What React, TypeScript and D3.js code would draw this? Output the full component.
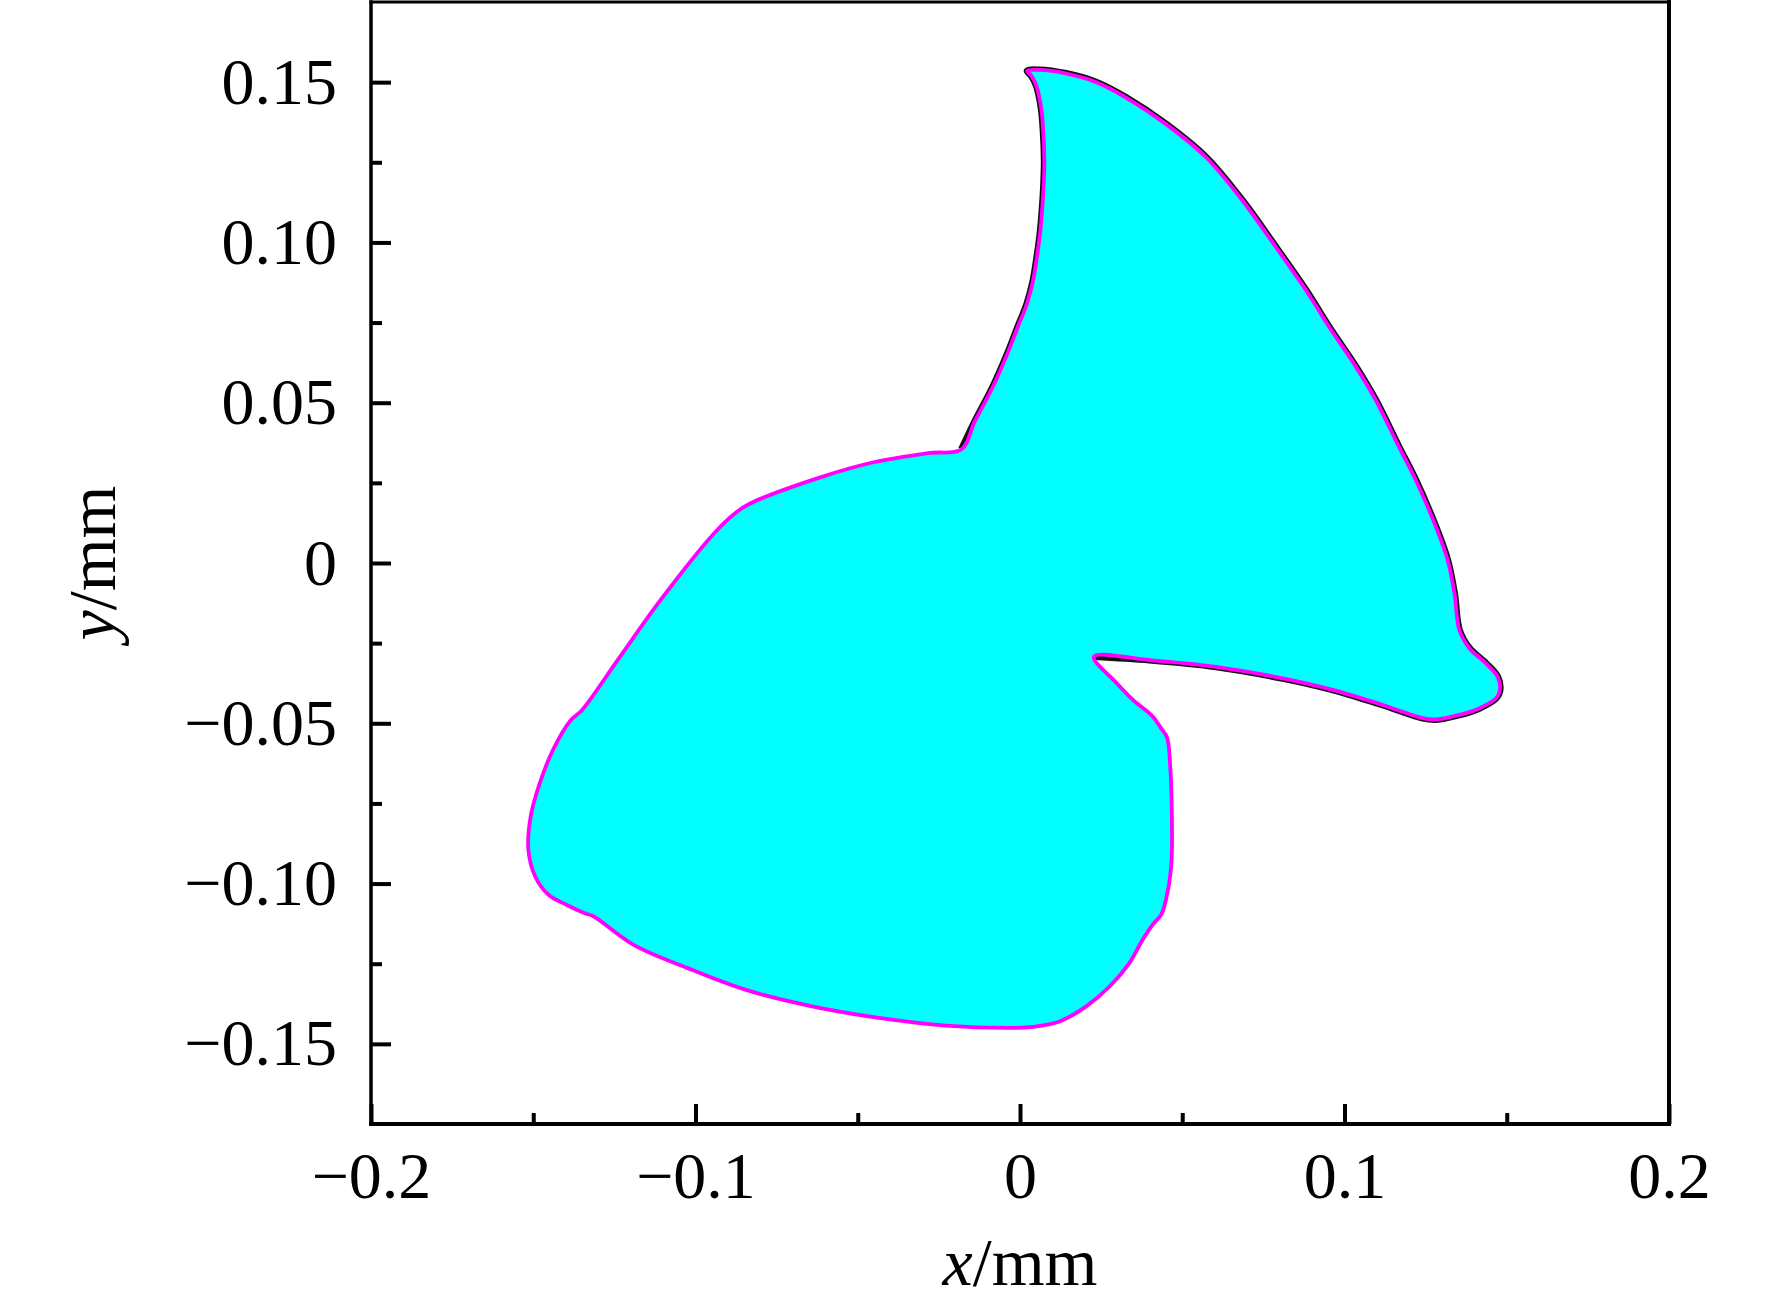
import * as d3 from "d3";
import { useEffect, useRef } from "react";

const xTicks = [-0.2, -0.1, 0, 0.1, 0.2];
const xMinorTicks = [-0.15, -0.05, 0.05, 0.15];
const yTicks = [-0.15, -0.1, -0.05, 0, 0.05, 0.1, 0.15];
const yMinorTicks = [-0.125, -0.075, -0.025, 0.025, 0.075, 0.125];

// upper blade: left notch -> tip -> right side -> inner notch (x, y in mm)
const bladeOutline: [number, number][] = [
  [-0.018, 0.0355],
  [-0.014, 0.044],
  [-0.0084, 0.0549],
  [-0.004, 0.065],
  [-0.0007, 0.0736],
  [0.0021, 0.0808],
  [0.004, 0.088],
  [0.0052, 0.0954],
  [0.0062, 0.103],
  [0.0068, 0.1099],
  [0.0073, 0.118],
  [0.0075, 0.1255],
  [0.0072, 0.134],
  [0.0065, 0.1421],
  [0.005, 0.149],
  [0.0035, 0.152],
  [0.0022, 0.1535],
  [0.006, 0.1538],
  [0.0142, 0.1527],
  [0.0235, 0.15],
  [0.0327, 0.1452],
  [0.045, 0.1369],
  [0.0574, 0.1265],
  [0.0686, 0.113],
  [0.0789, 0.0985],
  [0.0882, 0.085],
  [0.0953, 0.0736],
  [0.1036, 0.0611],
  [0.1097, 0.0507],
  [0.1168, 0.0362],
  [0.122, 0.0258],
  [0.1282, 0.0112],
  [0.1318, 0.0009],
  [0.1339, -0.0095],
  [0.1354, -0.0209],
  [0.1385, -0.0266],
  [0.1436, -0.0313],
  [0.1472, -0.0355],
  [0.1479, -0.0396],
  [0.1467, -0.0422],
  [0.1416, -0.0453],
  [0.1354, -0.0474],
  [0.1282, -0.0488],
  [0.1241, -0.0484],
  [0.1118, -0.0443],
  [0.0964, -0.0396],
  [0.081, -0.036],
  [0.0604, -0.0324],
  [0.0399, -0.0303],
  [0.0228, -0.0292],
];

// lower lobe: inner notch -> bottom -> left side -> back to left notch
const lobeOutline: [number, number][] = [
  [0.0228, -0.0292],
  [0.0296, -0.0373],
  [0.0348, -0.0427],
  [0.0409, -0.0479],
  [0.0435, -0.0516],
  [0.0453, -0.0544],
  [0.0463, -0.0635],
  [0.0468, -0.0791],
  [0.0466, -0.0947],
  [0.045, -0.105],
  [0.0435, -0.1097],
  [0.0409, -0.1128],
  [0.0378, -0.1175],
  [0.0337, -0.1248],
  [0.0276, -0.1321],
  [0.0204, -0.1383],
  [0.0122, -0.143],
  [0.0039, -0.1447],
  [-0.0022, -0.145],
  [-0.0228, -0.1443],
  [-0.0434, -0.1419],
  [-0.0641, -0.1383],
  [-0.0847, -0.1331],
  [-0.1026, -0.1263],
  [-0.1191, -0.1191],
  [-0.1315, -0.1102],
  [-0.1343, -0.1092],
  [-0.1398, -0.1066],
  [-0.1453, -0.1035],
  [-0.1494, -0.0978],
  [-0.1515, -0.0895],
  [-0.1508, -0.0791],
  [-0.148, -0.0687],
  [-0.1439, -0.0583],
  [-0.1384, -0.049],
  [-0.135, -0.0459],
  [-0.124, -0.0303],
  [-0.1108, -0.0116],
  [-0.0943, 0.0092],
  [-0.0877, 0.0156],
  [-0.0833, 0.0185],
  [-0.0613, 0.0268],
  [-0.0448, 0.0315],
  [-0.0283, 0.0343],
  [-0.018, 0.0355],
];

const width = 1772;
const height = 1306;
const font = "'Liberation Serif', 'Times New Roman', serif";

export default function App() {
  const svgRef = useRef<SVGSVGElement>(null);

  useEffect(() => {
    if (!svgRef.current) return;
    const svg = d3.select(svgRef.current);
    svg.selectAll("*").remove();

    const margin = { top: 2, right: 103, bottom: 182, left: 371 };
    const x = d3
      .scaleLinear()
      .domain([-0.2, 0.2])
      .range([margin.left, width - margin.right]);
    const y = d3
      .scaleLinear()
      .domain([-0.175, 0.175])
      .range([height - margin.bottom, margin.top]);

    const openLine = d3
      .line<[number, number]>()
      .x((d) => x(d[0]))
      .y((d) => y(d[1]))
      .curve(d3.curveCatmullRom.alpha(0.5));
    const closedLine = d3
      .line<[number, number]>()
      .x((d) => x(d[0]))
      .y((d) => y(d[1]))
      .curve(d3.curveCatmullRomClosed.alpha(0.5));

    const outline = [...bladeOutline, ...lobeOutline.slice(1, -1)];

    // dark edge of the blade, fill covers its inner half
    svg
      .append("path")
      .attr("d", openLine(bladeOutline))
      .attr("fill", "none")
      .attr("stroke", "#111")
      .attr("stroke-width", 7)
      .attr("stroke-linejoin", "round");

    svg
      .append("path")
      .attr("d", closedLine(outline))
      .attr("fill", "#00ffff");

    svg
      .append("path")
      .attr("d", closedLine(outline))
      .attr("fill", "none")
      .attr("stroke", "#ff00ff")
      .attr("stroke-width", 3.8)
      .attr("stroke-linejoin", "round");

    // Axes
    const fmtY = (d: number) => (d === 0 ? "0" : d3.format(".2f")(d));
    const fmtX = (d: number) => (d === 0 ? "0" : d3.format(".1f")(d));

    const gx = svg
      .append("g")
      .attr("transform", `translate(0,${y(-0.175)})`)
      .call(
        d3
          .axisBottom(x)
          .tickValues(xTicks)
          .tickSize(-20)
          .tickPadding(27)
          .tickFormat((d) => fmtX(+d)),
      );
    gx.append("g").call(
      d3
        .axisBottom(x)
        .tickValues(xMinorTicks)
        .tickSize(-11)
        .tickFormat(() => ""),
    );

    const gy = svg
      .append("g")
      .attr("transform", `translate(${x(-0.2)},0)`)
      .call(
        d3
          .axisLeft(y)
          .tickValues(yTicks)
          .tickSize(-20)
          .tickPadding(34)
          .tickFormat((d) => fmtY(+d)),
      );
    gy.append("g").call(
      d3
        .axisLeft(y)
        .tickValues(yMinorTicks)
        .tickSize(-11)
        .tickFormat(() => ""),
    );

    svg.selectAll(".domain").remove();
    svg
      .selectAll(".tick line")
      .attr("stroke", "#000")
      .attr("stroke-width", 4);
    svg
      .selectAll(".tick text")
      .attr("fill", "#000")
      .style("font-family", font)
      .style("font-size", "66px");

    // Frame
    const x0 = x(-0.2);
    const x1 = x(0.2);
    const y0 = y(-0.175);
    const y1 = y(0.175);
    const frame = [
      { a: [x0, y0], b: [x0, y1], w: 3.5 },
      { a: [x0, y0], b: [x1, y0], w: 4 },
      { a: [x1, y0], b: [x1, y1], w: 4 },
      { a: [x0, y1], b: [x1, y1], w: 3 },
    ];
    svg
      .selectAll(".frame")
      .data(frame)
      .enter()
      .append("line")
      .attr("class", "frame")
      .attr("x1", (d) => d.a[0])
      .attr("y1", (d) => d.a[1])
      .attr("x2", (d) => d.b[0])
      .attr("y2", (d) => d.b[1])
      .attr("stroke", "#000")
      .attr("stroke-width", (d) => d.w)
      .attr("stroke-linecap", "square");

    // Axis labels
    const xl = svg
      .append("text")
      .attr("x", x(0))
      .attr("y", 1285)
      .attr("text-anchor", "middle")
      .style("font-family", font)
      .style("font-size", "68px");
    xl.append("tspan").style("font-style", "italic").text("x");
    xl.append("tspan").text("/mm");

    const yl = svg
      .append("text")
      .attr("transform", `translate(115,${y(0)}) rotate(-90)`)
      .attr("text-anchor", "middle")
      .style("font-family", font)
      .style("font-size", "68px");
    yl.append("tspan").style("font-style", "italic").text("y");
    yl.append("tspan").text("/mm");
  }, []);

  return (
    <div style={{ position: "absolute", left: 0, top: 0, background: "#fff" }}>
      <svg ref={svgRef} width={width} height={height} />
    </div>
  );
}
